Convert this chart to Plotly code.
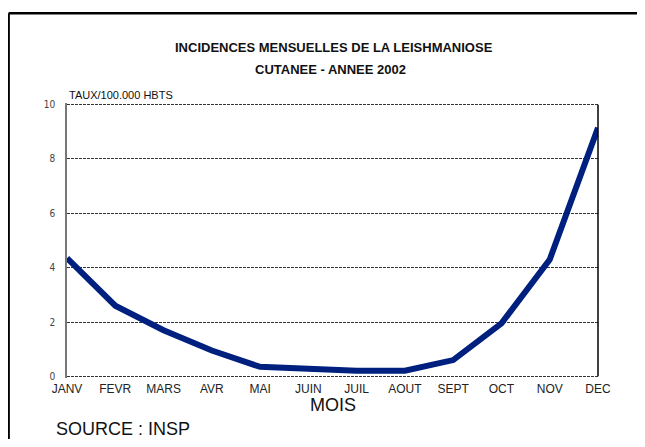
import plotly.graph_objects as go

months = ["JANV", "FEVR", "MARS", "AVR", "MAI", "JUIN", "JUIL", "AOUT", "SEPT", "OCT", "NOV", "DEC"]
taux = [4.35, 2.6, 1.7, 0.95, 0.35, 0.26, 0.21, 0.21, 0.6, 1.95, 4.3, 9.15]
y_ticks = [0, 2, 4, 6, 8, 10]

# screen geometry (page body has an 8px default margin on every side)
SW, SH = 645, 447
OFF = 8
W, H = SW - OFF, SH - 2 * OFF
X0, X1, Y0, Y1 = 66.5, 598.5, 104.3, 376.0   # pixel positions of JANV/DEC and 10/0
YPAD = 0.06
ys = (Y1 - Y0) / 10.0
L, R = X0, X1
T, B = Y0 - YPAD * ys, Y1 + YPAD * ys
FIG_BOTTOM = OFF + H


def px2x(px):
    return (px - L) / (R - L)


def px2y(py):
    return (B - py) / (B - T)


xs = list(range(len(months)))

fig = go.Figure()
fig.add_trace(go.Scatter(
    x=xs, y=taux, mode="lines",
    line=dict(color="#00207f", width=6),
    hoverinfo="skip",
))

sans = "Liberation Sans, Arial, sans-serif"
narrow = "Liberation Sans Narrow, DejaVu Sans Condensed, Arial Narrow, sans-serif"

fig.update_layout(
    width=W, height=H,
    margin=dict(l=L - OFF, r=SW - R, t=T - OFF, b=FIG_BOTTOM - B, pad=0),
    paper_bgcolor="white", plot_bgcolor="white",
    showlegend=False,
    xaxis=dict(
        range=[0, len(months) - 1],
        tickmode="array", tickvals=xs, ticktext=months,
        showgrid=False, zeroline=False, showline=False,
        ticks="", tickfont=dict(family=sans, size=12, color="#222"),
        ticklabelstandoff=2,
    ),
    yaxis=dict(
        range=[-YPAD, 10 + YPAD],
        tickmode="array", tickvals=y_ticks,
        showgrid=True, gridcolor="#333", gridwidth=1, griddash="3px,1px",
        zeroline=False, showline=True, linecolor="#777", linewidth=1.5,
        ticks="", tickfont=dict(family=narrow, size=10, color="#444"),
        ticklabelstandoff=8,
    ),
    shapes=[
        dict(type="line", xref="paper", yref="paper", x0=1, x1=1, y0=px2y(Y1), y1=px2y(Y0),
             line=dict(color="black", width=1.5)),
        dict(type="line", xref="paper", yref="paper", x0=px2x(8), x1=px2x(SW + 5),
             y0=px2y(13), y1=px2y(13), line=dict(color="black", width=2.5)),
        dict(type="line", xref="paper", yref="paper", x0=px2x(8), x1=px2x(8),
             y0=px2y(13), y1=px2y(SH + 5), line=dict(color="black", width=2.5)),
    ],
    annotations=[
        dict(text="<b>INCIDENCES MENSUELLES DE LA LEISHMANIOSE</b>", xref="paper", yref="paper",
             x=px2x(334), y=px2y(47), showarrow=False, xanchor="center", yanchor="middle",
             font=dict(family=sans, size=13, color="#111")),
        dict(text="<b>CUTANEE - ANNEE 2002</b>", xref="paper", yref="paper",
             x=px2x(330), y=px2y(69), showarrow=False, xanchor="center", yanchor="middle",
             font=dict(family=sans, size=13, color="#111")),
        dict(text="TAUX/100.000 HBTS", xref="paper", yref="paper",
             x=px2x(67), y=px2y(95), showarrow=False, xanchor="left", yanchor="middle",
             font=dict(family=sans, size=11, color="#111")),
        dict(text="MOIS", xref="paper", yref="paper",
             x=px2x(332.5), y=px2y(405), showarrow=False, xanchor="center", yanchor="middle",
             font=dict(family=sans, size=18, color="#111")),
        dict(text="SOURCE : INSP", xref="paper", yref="paper",
             x=px2x(53), y=px2y(429), showarrow=False, xanchor="left", yanchor="middle",
             font=dict(family=sans, size=18, color="#111")),
    ],
)

fig.write_html("out.html")
